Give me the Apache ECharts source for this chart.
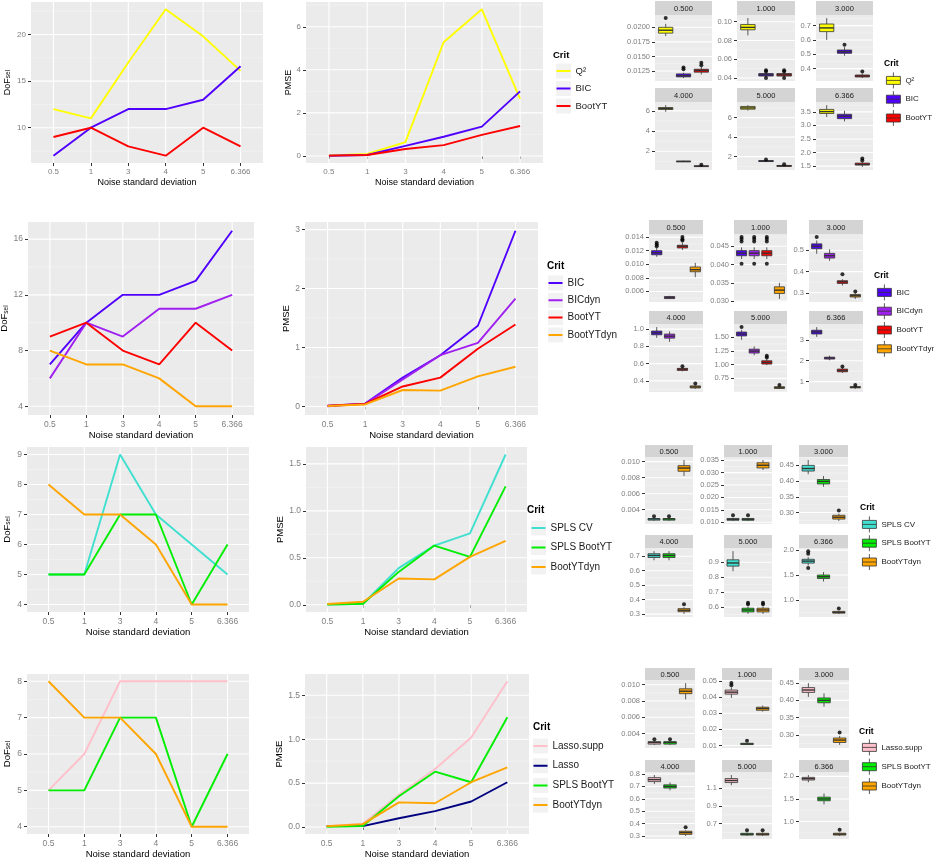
<!DOCTYPE html>
<html>
<head>
<meta charset="utf-8">
<script src="https://cdn.jsdelivr.net/npm/echarts@6.0.0/dist/echarts.min.js"></script>
<style>
  html, body { margin: 0; padding: 0; background: #fff; }
  #chart { width: 934px; height: 857px; }
</style>
</head>
<body>
<div id="chart"></div>
<script>
// x categories shared by every line chart, and the facet titles of the boxplots
const noise = ['0.5', '1', '3', '4', '5', '6.366'];
const facets = ['0.500', '1.000', '3.000', '4.000', '5.000', '6.366'];

// ---- row 1 ----
const crit1 = ['Q²', 'BIC', 'BootYT'];
const dof1 = [[12, 11, 17, 22.7, 19.8, 16.1], [7, 10, 12, 12, 13, 16.6], [9, 10, 8, 7, 10, 8]];
const pmse1 = [[0.02, 0.094, 0.64, 5.28, 6.81, 2.65], [0.012, 0.043, 0.47, 0.89, 1.36, 3.0], [0.013, 0.043, 0.32, 0.5, 0.98, 1.39]];
const dofTicks1 = ['10', '15', '20'];
const pmseTicks1 = ['0', '2', '4', '6'];
// per facet, per crit: [min, q1, median, q3, max]
const box1 = [
  [[0.0185, 0.0190, 0.0195, 0.0200, 0.0206], [0.0113, 0.0115, 0.0117, 0.0120, 0.0122], [0.0119, 0.0123, 0.0126, 0.0128, 0.0132]],
  [[0.0855, 0.0914, 0.094, 0.097, 0.104], [0.0414, 0.0421, 0.0434, 0.0448, 0.046], [0.0414, 0.0421, 0.0434, 0.0448, 0.046]],
  [[0.60, 0.658, 0.684, 0.711, 0.753], [0.49, 0.507, 0.518, 0.53, 0.55], [0.335, 0.342, 0.349, 0.356, 0.365]],
  [[5.9, 6.13, 6.23, 6.33, 6.57], [0.93, 0.96, 0.99, 1.02, 1.07], [0.45, 0.48, 0.52, 0.56, 0.6]],
  [[6.73, 6.87, 7.0, 7.15, 7.29], [1.45, 1.5, 1.55, 1.6, 1.65], [0.95, 1.0, 1.05, 1.1, 1.15]],
  [[3.31, 3.44, 3.51, 3.59, 3.75], [3.15, 3.25, 3.34, 3.41, 3.54], [1.47, 1.54, 1.56, 1.61, 1.65]]
];
// outliers: [crit index, value]
const out1 = [
  [[0, 0.0216], [1, 0.0128], [1, 0.0131], [2, 0.0135], [2, 0.0139]],
  [[1, 0.040], [1, 0.047], [1, 0.0483], [2, 0.040], [2, 0.047], [2, 0.0483]],
  [[1, 0.566], [2, 0.38]],
  [[2, 0.67]],
  [[1, 1.72], [2, 1.23]],
  [[2, 1.71], [2, 1.78]]
];
const boxTicks1 = [['0.0125', '0.0150', '0.0175', '0.0200'], ['0.04', '0.06', '0.08', '0.10'], ['0.4', '0.5', '0.6', '0.7'],
  ['2', '4', '6'], ['2', '4', '6'], ['1.5', '2.0', '2.5', '3.0', '3.5']];

// ---- row 2 ----
const crit2 = ['BIC', 'BICdyn', 'BootYT', 'BootYTdyn'];
const dof2 = [[7, 10, 12, 12, 13, 16.6], [6, 10, 9, 11, 11, 12], [9, 10, 8, 7, 10, 8], [8, 7, 7, 6, 4, 4]];
const pmse2 = [[0.012, 0.05, 0.49, 0.87, 1.37, 2.98], [0.005, 0.045, 0.46, 0.87, 1.08, 1.83],
  [0.013, 0.045, 0.34, 0.49, 0.98, 1.39], [0.009, 0.035, 0.28, 0.27, 0.51, 0.675]];
const dofTicks2 = ['4', '8', '12', '16'];
const pmseTicks2 = ['0', '1', '2', '3'];
const box2 = [
  [[0.0111, 0.0114, 0.0117, 0.0120, 0.0124], [0.0049, 0.00495, 0.0051, 0.00525, 0.00535], [0.0121, 0.0124, 0.01265, 0.0128, 0.0132], [0.0081, 0.0089, 0.0092, 0.0096, 0.0102]],
  [[0.0415, 0.0424, 0.0431, 0.0438, 0.0447], [0.0415, 0.0424, 0.0431, 0.0438, 0.0447], [0.0415, 0.0424, 0.0431, 0.0438, 0.0447], [0.0306, 0.0321, 0.033, 0.0339, 0.035]],
  [[0.484, 0.508, 0.52, 0.531, 0.547], [0.451, 0.464, 0.475, 0.486, 0.505], [0.334, 0.344, 0.352, 0.357, 0.364], [0.271, 0.28, 0.286, 0.292, 0.298]],
  [[0.898, 0.934, 0.957, 0.977, 1.023], [0.852, 0.895, 0.918, 0.942, 0.973], [0.51, 0.521, 0.536, 0.545, 0.556], [0.307, 0.318, 0.33, 0.342, 0.35]],
  [[1.45, 1.52, 1.555, 1.59, 1.63], [1.17, 1.21, 1.245, 1.28, 1.33], [0.99, 1.01, 1.04, 1.07, 1.1], [0.56, 0.57, 0.58, 0.6, 0.61]],
  [[3.14, 3.28, 3.38, 3.46, 3.61], [2.02, 2.08, 2.13, 2.17, 2.24], [1.41, 1.47, 1.53, 1.6, 1.68], [0.65, 0.7, 0.73, 0.76, 0.81]]
];
const out2 = [
  [[0, 0.01265], [0, 0.0129], [0, 0.01315], [2, 0.0135], [2, 0.0137], [2, 0.0140]],
  [[0, 0.0402], [0, 0.0463], [0, 0.047], [0, 0.0475], [1, 0.0402], [1, 0.0463], [1, 0.047], [1, 0.0475], [2, 0.0402], [2, 0.0463], [2, 0.047], [2, 0.0475]],
  [[0, 0.563], [2, 0.387], [3, 0.306]],
  [[2, 0.57], [3, 0.37]],
  [[0, 1.68], [2, 1.13], [2, 1.16], [3, 0.63]],
  [[2, 1.72], [3, 0.84]]
];
const boxTicks2 = [['0.006', '0.008', '0.010', '0.012', '0.014'], ['0.030', '0.035', '0.040', '0.045'], ['0.3', '0.4', '0.5'],
  ['0.4', '0.6', '0.8', '1.0'], ['0.50', '0.75', '1.00', '1.25', '1.50'], ['1', '2', '3']];

// ---- row 3 ----
const crit3 = ['SPLS CV', 'SPLS BootYT', 'BootYTdyn'];
const dof3 = [[5, 5, 9, 7, 6, 5], [5, 5, 7, 7, 4, 6], [8, 7, 7, 6, 4, 4]];
const pmse3 = [[0.003, 0.011, 0.39, 0.63, 0.76, 1.6], [0.003, 0.011, 0.35, 0.63, 0.51, 1.26], [0.009, 0.033, 0.28, 0.27, 0.51, 0.68]];
const dofTicks3 = ['4', '5', '6', '7', '8', '9'];
const pmseTicks3 = ['0.0', '0.5', '1.0', '1.5'];
const box3 = [
  [[0.0026, 0.0027, 0.00285, 0.0029, 0.0030], [0.0026, 0.0027, 0.00285, 0.0029, 0.0030], [0.0082, 0.0088, 0.0092, 0.0095, 0.0102]],
  [[0.0105, 0.0108, 0.0111, 0.0115, 0.0118], [0.0105, 0.0108, 0.0111, 0.0115, 0.0118], [0.0311, 0.0319, 0.033, 0.034, 0.0351]],
  [[0.422, 0.432, 0.44, 0.45, 0.467], [0.382, 0.391, 0.399, 0.405, 0.416], [0.273, 0.279, 0.285, 0.291, 0.296]],
  [[0.672, 0.691, 0.705, 0.717, 0.735], [0.672, 0.691, 0.705, 0.717, 0.735], [0.302, 0.317, 0.327, 0.338, 0.348]],
  [[0.84, 0.874, 0.895, 0.916, 0.974], [0.555, 0.568, 0.581, 0.593, 0.605], [0.555, 0.568, 0.581, 0.593, 0.605]],
  [[1.69, 1.74, 1.78, 1.816, 1.86], [1.37, 1.43, 1.466, 1.5, 1.56], [0.72, 0.735, 0.75, 0.77, 0.78]]
];
const out3 = [
  [[0, 0.0032], [1, 0.0032]],
  [[0, 0.0128], [1, 0.0128]],
  [[2, 0.306]],
  [[2, 0.368]],
  [[1, 0.62], [1, 0.63], [2, 0.62], [2, 0.63]],
  [[0, 1.64], [0, 1.93], [0, 1.98], [2, 0.83]]
];
const boxTicks3 = [['0.004', '0.006', '0.008', '0.010'], ['0.010', '0.015', '0.020', '0.025', '0.030', '0.035'], ['0.30', '0.35', '0.40', '0.45'],
  ['0.3', '0.4', '0.5', '0.6', '0.7'], ['0.6', '0.7', '0.8', '0.9'], ['1.0', '1.5', '2.0']];

// ---- row 4 ----
const dofCrit4 = ['Lasso.supp', 'SPLS BootYT', 'BootYTdyn'];
const pmseCrit4 = ['Lasso.supp', 'Lasso', 'SPLS BootYT', 'BootYTdyn'];
const boxCrit4 = ['Lasso.supp', 'SPLS BootYT', 'BootYTdyn'];
const dof4 = [[5, 6, 8, 8, 8, 8], [5, 5, 7, 7, 4, 6], [8, 7, 7, 6, 4, 4]];
const pmse4 = [[0.01, 0.037, 0.366, 0.66, 1.02, 1.66], [0.01, 0.01, 0.1, 0.18, 0.29, 0.51],
  [0.003, 0.011, 0.35, 0.63, 0.51, 1.25], [0.009, 0.033, 0.28, 0.27, 0.51, 0.68]];
const dofTicks4 = ['4', '5', '6', '7', '8'];
const pmseTicks4 = ['0.0', '0.5', '1.0', '1.5'];
const box4 = [
  [[0.0026, 0.0027, 0.0029, 0.0030, 0.0031], [0.0026, 0.0027, 0.0029, 0.0030, 0.0031], [0.0082, 0.0089, 0.0092, 0.0095, 0.0102]],
  [[0.0394, 0.0418, 0.043, 0.0443, 0.046], [0.0104, 0.0106, 0.011, 0.0114, 0.0117], [0.031, 0.0318, 0.0329, 0.0337, 0.0347]],
  [[0.41, 0.423, 0.43, 0.437, 0.45], [0.382, 0.393, 0.4, 0.407, 0.42], [0.271, 0.278, 0.285, 0.291, 0.297]],
  [[0.72, 0.739, 0.755, 0.771, 0.792], [0.668, 0.687, 0.7, 0.713, 0.732], [0.3, 0.313, 0.327, 0.338, 0.345]],
  [[1.135, 1.165, 1.188, 1.21, 1.25], [0.56, 0.57, 0.58, 0.59, 0.6], [0.56, 0.57, 0.58, 0.59, 0.6]],
  [[1.87, 1.92, 1.95, 1.98, 2.03], [1.38, 1.46, 1.5, 1.54, 1.62], [0.68, 0.70, 0.72, 0.74, 0.75]]
];
const out4 = [
  [[0, 0.0033], [1, 0.0033]],
  [[0, 0.0473], [0, 0.0486], [1, 0.0129]],
  [[2, 0.307]],
  [[2, 0.37]],
  [[1, 0.625], [2, 0.625]],
  [[2, 0.82]]
];
const boxTicks4 = [['0.004', '0.006', '0.008', '0.010'], ['0.01', '0.02', '0.03', '0.04', '0.05'], ['0.30', '0.35', '0.40', '0.45'],
  ['0.3', '0.4', '0.5', '0.6', '0.7', '0.8'], ['0.7', '0.9', '1.1'], ['1.0', '1.5', '2.0']];

// colours per criterion
const critColors = {
  'Q²': '#FFFF00', 'BIC': '#5000FF', 'BICdyn': '#A020F0', 'BootYT': '#FF0000', 'BootYTdyn': '#FFA500',
  'SPLS CV': '#40E0D0', 'SPLS BootYT': '#00EE00', 'Lasso.supp': '#FFC0CB', 'Lasso': '#000080'
};

// layout of each row (pixels) and its font sizes
const layout = [
  { dof: [31, 2, 232, 161], dofGap: 19, pmse: [306, 2, 237, 161], pmseGap: 10,
    fs: { tick: 8, title: 9, leg: 9.5 },
    leg: { tx: 553, ty: 55, kx: 556, y0: 71, dy: 17.5 },
    cols: [[655, 57], [737, 58], [816, 57]], strips: [[1, 14], [88, 14]], panels: [[15, 66], [102, 68]],
    bleg: { tx: 884, ty: 64, kx: 886, y0: 80, dy: 18 } },
  { dof: [28, 222, 226, 193], dofGap: 16, pmse: [305, 222, 233, 193], pmseGap: 10,
    fs: { tick: 8.5, title: 9.5, leg: 10 },
    leg: { tx: 547, ty: 266, kx: 548, y0: 283, dy: 17.3 },
    cols: [[649, 54], [734, 53], [809, 54]], strips: [[220, 14], [311, 13]], panels: [[234, 68], [324, 68]],
    bleg: { tx: 874, ty: 276, kx: 877, y0: 292, dy: 18 } },
  { dof: [27, 447, 222, 165], dofGap: 15, pmse: [306, 447, 221, 165], pmseGap: 17,
    fs: { tick: 8.5, title: 9.5, leg: 10 },
    leg: { tx: 527, ty: 510, kx: 531, y0: 528, dy: 19.5 },
    cols: [[645, 48], [724, 48], [799, 49]], strips: [[445, 12], [535, 13]], panels: [[457, 67], [548, 69]],
    bleg: { tx: 860, ty: 508, kx: 862, y0: 524, dy: 18 } },
  { dof: [27, 674, 222, 160], dofGap: 15, pmse: [305, 674, 224, 160], pmseGap: 17,
    fs: { tick: 8.5, title: 9.5, leg: 10 },
    leg: { tx: 533, ty: 727, kx: 533, y0: 746, dy: 19.7 },
    cols: [[645, 50], [722, 50], [799, 50]], strips: [[668, 12], [760, 12]], panels: [[680, 68], [772, 67]],
    bleg: { tx: 859, ty: 732, kx: 862, y0: 747, dy: 18.5 } }
];

const FONT = '"Liberation Sans", Arial, Helvetica, sans-serif';
const LINE_ICON = 'path://M0,0 L0.1,0 M0,6 L14,6 L14,8 L0,8 Z M0,14 L0.1,14';
const BOX_ICON = 'path://M7,0 L7,4 M0,4 L14,4 L14,12 L0,12 Z M0,8 L14,8 M7,12 L7,16';
const BOX_TICK_FS = 7.5;
const STRIP_FS = 7.5;
const BOX_LEG_FS = 8;

const option = {
  animation: false,
  backgroundColor: '#ffffff',
  textStyle: { fontFamily: FONT },
  grid: [], xAxis: [], yAxis: [], series: [], legend: [], graphic: []
};

// ggplot style 5% expansion of the data range
function padRange(vals) {
  const lo = Math.min(...vals), hi = Math.max(...vals);
  const p = (hi - lo) * 0.05;
  return [lo - p, hi + p];
}

function minorsOf(tv, lo, hi) {
  const s = tv[1] - tv[0];
  const out = [];
  for (let v = tv[0] - s / 2; v < hi; v += s) {
    if (v > lo) out.push(v);
  }
  return out;
}

function labelFor(labels) {
  const tv = labels.map(Number);
  return v => {
    const i = tv.findIndex(t => Math.abs(t - v) <= 1e-7 * Math.max(1, Math.abs(t)));
    return i < 0 ? '' : labels[i];
  };
}

function addGrid(r) {
  option.grid.push({ left: r[0], top: r[1], width: r[2], height: r[3], show: true,
    backgroundColor: '#EBEBEB', borderWidth: 0, outerBoundsMode: 'none' });
  return option.grid.length - 1;
}

// one panel grid line per data item: [value, vertical?, minor?]
function renderGridLine(params, api) {
  const cs = params.coordSys;
  const v = api.value(0);
  const vertical = api.value(1) === 1;
  const minor = api.value(2) === 1;
  const style = { stroke: minor ? '#F5F5F5' : '#FFFFFF', lineWidth: minor ? 0.6 : 1.1 };
  if (vertical) {
    const x = api.coord([v, 0])[0];
    return { type: 'line', shape: { x1: x, y1: cs.y, x2: x, y2: cs.y + cs.height }, style };
  }
  const y = api.coord([0, v])[1];
  return { type: 'line', shape: { x1: cs.x, y1: y, x2: cs.x + cs.width, y2: y }, style };
}

function gridLines(gi, majors, minors, vmajors) {
  const d = [];
  minors.forEach(v => d.push([v, 0, 1]));
  majors.forEach(v => d.push([v, 0, 0]));
  vmajors.forEach(v => d.push([v, 1, 0]));
  option.series.push({
    type: 'custom', xAxisIndex: gi, yAxisIndex: gi, z: 1, silent: true,
    encode: { x: -1, y: -1 }, data: d, renderItem: renderGridLine
  });
}

function yAxisFor(gi, lo, hi, labels, size) {
  const tv = labels.map(Number);
  return {
    type: 'value', gridIndex: gi, min: lo, max: hi,
    axisLine: { show: false }, splitLine: { show: false },
    axisTick: { show: true, customValues: tv, length: 3, lineStyle: { color: '#333333', width: 1 } },
    axisLabel: { customValues: tv, formatter: labelFor(labels), margin: 5, fontSize: size, color: '#7F7F7F', fontFamily: FONT }
  };
}

function lineChart(r, crits, vals, labels, yName, yGap, fs) {
  const gi = addGrid(r);
  const [lo, hi] = padRange(vals.flat());
  const xs = noise.map((_, i) => i + 1);
  option.xAxis.push({
    type: 'value', gridIndex: gi, min: 0.4, max: noise.length + 0.6,
    axisLine: { show: false }, splitLine: { show: false },
    axisTick: { show: true, customValues: xs, length: 3, lineStyle: { color: '#333333', width: 1 } },
    axisLabel: { customValues: xs, formatter: v => noise[Math.round(v) - 1], margin: 5, fontSize: fs.tick, color: '#7F7F7F', fontFamily: FONT },
    name: 'Noise standard deviation', nameLocation: 'middle', nameGap: 15,
    nameTextStyle: { fontSize: fs.title, color: '#000000', fontFamily: FONT }
  });
  const ya = yAxisFor(gi, lo, hi, labels, fs.tick);
  ya.name = yName;
  ya.nameLocation = 'middle';
  ya.nameGap = yGap;
  ya.nameTextStyle = { fontSize: fs.title, color: '#000000', fontFamily: FONT,
    rich: { a: { fontSize: fs.title, color: '#000000', fontFamily: FONT },
            b: { fontSize: 6.5, color: '#000000', fontFamily: FONT, verticalAlign: 'bottom' } } };
  option.yAxis.push(ya);
  gridLines(gi, labels.map(Number), minorsOf(labels.map(Number), lo, hi), xs);
  crits.forEach((c, k) => option.series.push({
    type: 'line', name: c, xAxisIndex: gi, yAxisIndex: gi, z: 3, silent: true,
    data: vals[k].map((v, i) => [i + 1, v]), symbol: 'none',
    lineStyle: { width: 1.9, color: critColors[c] }, itemStyle: { color: critColors[c] }
  }));
}

function renderBox(params, api) {
  const x = api.value(0);
  const p = [1, 2, 3, 4, 5].map(k => api.coord([x, api.value(k)]));
  const hw = api.size([1, 0])[0] * 0.4;
  const cx = p[0][0];
  const stroke = '#333333';
  return {
    type: 'group',
    children: [
      { type: 'line', shape: { x1: cx, y1: p[0][1], x2: cx, y2: p[1][1] }, style: { stroke, lineWidth: 0.8 } },
      { type: 'line', shape: { x1: cx, y1: p[3][1], x2: cx, y2: p[4][1] }, style: { stroke, lineWidth: 0.8 } },
      { type: 'rect', shape: { x: cx - hw, y: p[3][1], width: 2 * hw, height: p[1][1] - p[3][1] },
        style: { fill: api.visual('color'), stroke, lineWidth: 0.8 } },
      { type: 'line', shape: { x1: cx - hw, y1: p[2][1], x2: cx + hw, y2: p[2][1] }, style: { stroke, lineWidth: 1.4 } }
    ]
  };
}

function boxFacet(r, strip, title, crits, boxes, outs, labels) {
  const gi = addGrid(r);
  const [lo, hi] = padRange(boxes.flat().concat(outs.map(o => o[1])));
  option.xAxis.push({ type: 'value', gridIndex: gi, min: 0.4, max: crits.length + 0.6, show: false });
  option.yAxis.push(yAxisFor(gi, lo, hi, labels, BOX_TICK_FS));
  const tv = labels.map(Number);
  gridLines(gi, tv, minorsOf(tv, lo, hi), []);
  crits.forEach((c, k) => option.series.push({
    type: 'custom', name: c, xAxisIndex: gi, yAxisIndex: gi, z: 3, silent: true,
    data: [[k + 1].concat(boxes[k])], encode: { x: 0, y: [1, 2, 3, 4, 5] },
    itemStyle: { color: critColors[c] }, renderItem: renderBox
  }));
  option.series.push({
    type: 'scatter', xAxisIndex: gi, yAxisIndex: gi, z: 4, silent: true,
    data: outs.map(o => [o[0] + 1, o[1]]), symbolSize: 4, itemStyle: { color: '#000000' }
  });
  option.graphic.push({ type: 'rect', shape: { x: strip[0], y: strip[1], width: strip[2], height: strip[3] },
    style: { fill: '#D4D4D4' } });
  option.graphic.push({ type: 'text', x: strip[0] + strip[2] / 2, y: strip[1] + strip[3] / 2 + 0.5,
    style: { text: title, fill: '#1A1A1A', font: STRIP_FS + 'px ' + FONT, align: 'center', verticalAlign: 'middle',
      textAlign: 'center', textVerticalAlign: 'middle' } });
}

function critTitle(x, y, size) {
  option.graphic.push({ type: 'text', x: x, y: y,
    style: { text: 'Crit', fill: '#000000', font: 'bold ' + size + 'px ' + FONT, align: 'left', verticalAlign: 'middle',
      textAlign: 'left', textVerticalAlign: 'middle' } });
}

function lineLegend(g, crits, size) {
  critTitle(g.tx, g.ty, size);
  crits.forEach((c, k) => option.graphic.push({ type: 'rect',
    shape: { x: g.kx, y: g.y0 + k * g.dy - 7.5, width: 15, height: 15 }, style: { fill: '#F2F2F2' } }));
  option.legend.push({
    orient: 'vertical', left: g.kx + 0.5, top: g.y0 - 7, padding: 0,
    itemWidth: 14, itemHeight: 14, itemGap: g.dy - 14, selectedMode: false,
    icon: LINE_ICON, itemStyle: { borderWidth: 0 },
    textStyle: { fontSize: size, color: '#1A1A1A', fontFamily: FONT },
    data: crits.map(c => ({ name: c, itemStyle: { color: critColors[c], borderWidth: 0 } }))
  });
}

function boxLegend(g, crits) {
  critTitle(g.tx, g.ty, BOX_LEG_FS + 0.5);
  option.legend.push({
    orient: 'vertical', left: g.kx, top: g.y0 - 8, padding: 0,
    itemWidth: 14, itemHeight: 16, itemGap: g.dy - 16, selectedMode: false,
    icon: BOX_ICON,
    textStyle: { fontSize: BOX_LEG_FS, color: '#1A1A1A', fontFamily: FONT },
    data: crits.map(c => ({ name: c, itemStyle: { color: critColors[c], borderColor: '#333333', borderWidth: 0.8 } }))
  });
}

const DOF_NAME = '{a|DoF}{b|sel}';

function buildRow(L, dofCrit, dof, dofTicks, pmseCrit, pmse, pmseTicks, boxCrit, boxes, outs, boxTicks) {
  lineChart(L.dof, dofCrit, dof, dofTicks, DOF_NAME, L.dofGap, L.fs);
  lineChart(L.pmse, pmseCrit, pmse, pmseTicks, 'PMSE', L.pmseGap, L.fs);
  lineLegend(L.leg, pmseCrit, L.fs.leg);
  facets.forEach((f, i) => {
    const col = L.cols[i % 3];
    const rr = Math.floor(i / 3);
    boxFacet([col[0], L.panels[rr][0], col[1], L.panels[rr][1]],
      [col[0], L.strips[rr][0], col[1], L.strips[rr][1]],
      f, boxCrit, boxes[i], outs[i], boxTicks[i]);
  });
  boxLegend(L.bleg, boxCrit);
}

buildRow(layout[0], crit1, dof1, dofTicks1, crit1, pmse1, pmseTicks1, crit1, box1, out1, boxTicks1);
buildRow(layout[1], crit2, dof2, dofTicks2, crit2, pmse2, pmseTicks2, crit2, box2, out2, boxTicks2);
buildRow(layout[2], crit3, dof3, dofTicks3, crit3, pmse3, pmseTicks3, crit3, box3, out3, boxTicks3);
buildRow(layout[3], dofCrit4, dof4, dofTicks4, pmseCrit4, pmse4, pmseTicks4, boxCrit4, box4, out4, boxTicks4);

const chart = echarts.init(document.getElementById('chart'), null, { renderer: 'canvas' });
chart.setOption(option);
</script>
</body>
</html>
